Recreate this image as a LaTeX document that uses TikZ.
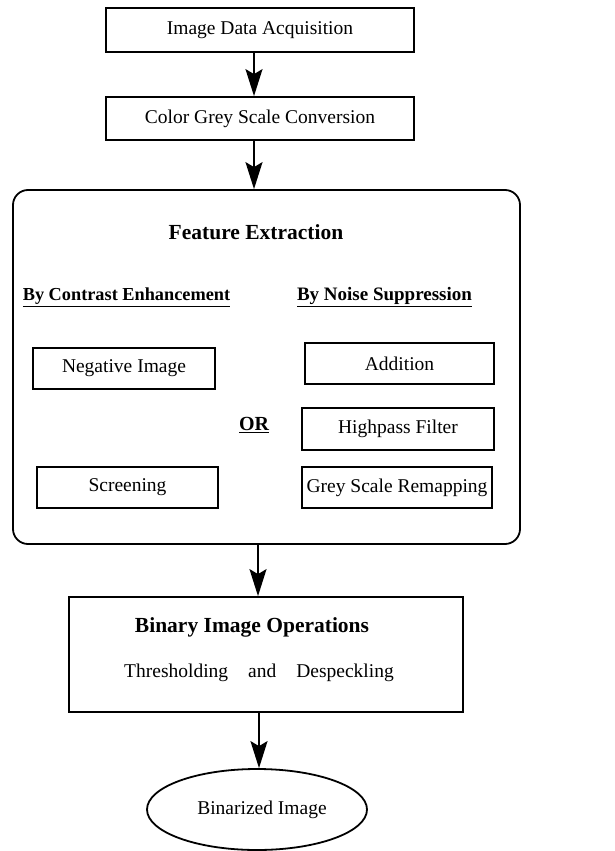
\documentclass[tikz,border=0pt]{standalone}
\usepackage{fontspec}
\setmainfont{Liberation Serif}
\usetikzlibrary{arrows.meta,shapes.geometric}
\begin{document}
\begin{tikzpicture}[x=1pt,y=-1pt,
  lw/.style={line width=1.8pt},
  txt/.style={font=\fontsize{19.5}{23}\selectfont},
  btxt/.style={font=\fontsize{21.5}{25}\selectfont\bfseries},
  htxt/.style={font=\fontsize{19}{23}\selectfont\bfseries},
  boxn/.style={draw,lw,rectangle,inner sep=0pt,txt},
  arr/.style={lw,-{Stealth[length=27pt,width=17pt,inset=5pt]}}
]
\useasboundingbox[fill=white] (0,0) rectangle (615,851);
% top boxes
\node[boxn,minimum width=308pt,minimum height=44pt] (acq) at (260,30) {Image Data Acquisition};
\node[boxn,minimum width=308pt,minimum height=43pt] (conv) at (260,118.5) {Color Grey Scale Conversion};
% feature extraction container
\node[draw,lw,rectangle,rounded corners=15pt,minimum width=507pt,minimum height=354pt,inner sep=0pt] (fe) at (266.5,367) {};
\node[btxt] (fet) at (256,232) {Feature Extraction};
\node[htxt,font=\fontsize{18.3}{22}\selectfont\bfseries] (ce) at (126.5,297) {\underline{By Contrast Enhancement}};
\node[htxt] (ns) at (384.5,297) {\underline{By Noise Suppression}};
\node[boxn,minimum width=182pt,minimum height=41pt] (neg) at (124,368.5) {Negative Image};
\node[boxn,minimum width=181pt,minimum height=41pt] (scr) at (127.5,487.5) {Screening};
\node[boxn,minimum width=189pt,minimum height=41pt] (add) at (399.5,363.5) {Addition};
\node[boxn,minimum width=192pt,minimum height=42pt] (hp) at (398,429) {Highpass Filter};
\node[boxn,minimum width=190pt,minimum height=41pt] (gsr) at (397,487.5) {Grey Scale Remapping};
\node[htxt,font=\fontsize{20}{24}\selectfont\bfseries] (or) at (254,425) {\underline{OR}};
% binary image operations
\node[draw,lw,rectangle,minimum width=394pt,minimum height=115pt,inner sep=0pt] (bio) at (266,654.5) {};
\node[btxt] (biot) at (252,627) {Binary Image Operations};
\node[txt] (thr) at (259,673) {Thresholding\hspace{20pt}and\hspace{20pt}Despeckling};
% output
\node[draw,lw,ellipse,minimum width=220pt,minimum height=81pt,inner sep=0pt,txt] (bin) at (257,809.5) {\hspace{10pt}Binarized Image};
% arrows
\draw[arr] ([xshift=-6pt]acq.south) -- ([xshift=-6pt]conv.north);
\draw[arr] ([xshift=-6pt]conv.south) -- ([xshift=-12.5pt]fe.north);
\draw[arr] ([xshift=-8.5pt]fe.south) -- ([xshift=-8pt]bio.north);
\draw[arr] ([xshift=-7pt]bio.south) -- ([xshift=2pt]bin.north);
\end{tikzpicture}
\end{document}
